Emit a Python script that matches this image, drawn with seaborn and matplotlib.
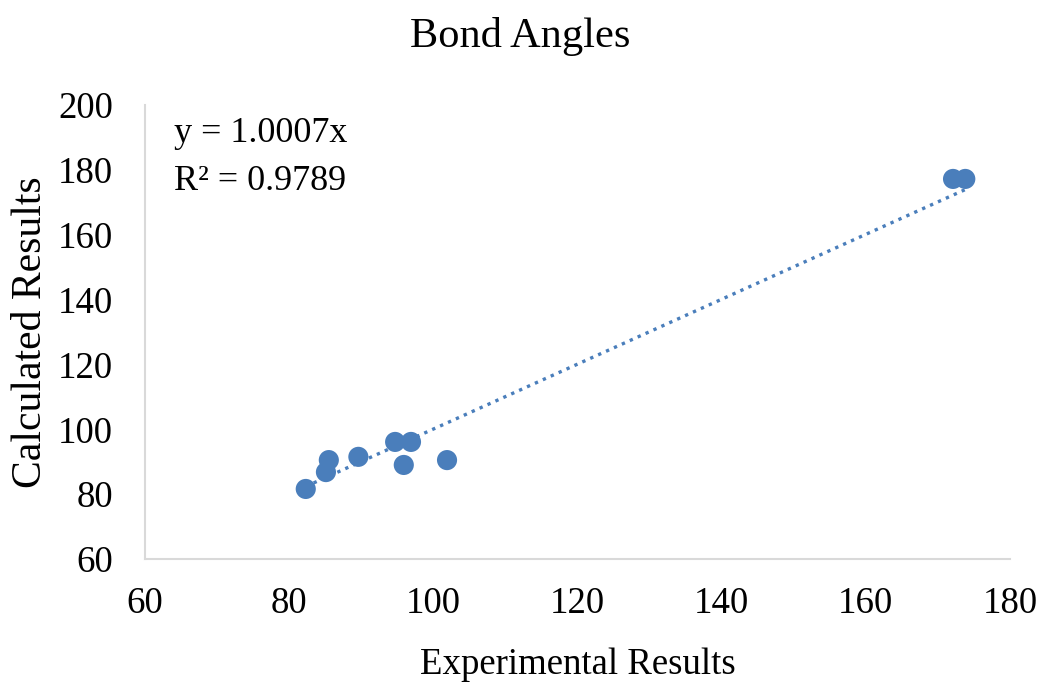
import numpy as np
import pandas as pd
import matplotlib
matplotlib.use("Agg")
import matplotlib.pyplot as plt
import seaborn as sns

# Bond angle comparison (degrees)
experimental = [82.3, 85.1, 85.5, 89.6, 94.7, 96.9, 95.9, 101.9, 172.1, 173.8]
calculated = [81.6, 86.8, 90.5, 91.5, 96.1, 96.1, 89.0, 90.5, 177.2, 177.2]
slope = 1.0007
r_squared = 0.9789

x_ticks = [60, 80, 100, 120, 140, 160, 180]
y_ticks = [60, 80, 100, 120, 140, 160, 180, 200]

sns.set_theme(style="white")
plt.rcParams["font.family"] = ["Liberation Serif", "DejaVu Serif"]
plt.rcParams["text.color"] = "black"
plt.rcParams["axes.labelcolor"] = "black"
plt.rcParams["xtick.color"] = "black"
plt.rcParams["ytick.color"] = "black"

blue = "#4A7EBB"
df = pd.DataFrame({"Experimental": experimental, "Calculated": calculated})

fig = plt.figure(figsize=(10.41, 6.88), dpi=100)
ax = fig.add_axes([0.1393, 0.1875, 0.8309, 0.6599])

# Linear trendline through the origin
trend_x = np.array([min(experimental), max(experimental)])
trend = pd.DataFrame({"x": trend_x, "y": slope * trend_x})
sns.lineplot(data=trend, x="x", y="y", ax=ax, color=blue, linestyle=(0, (1, 1.6)),
             linewidth=2.4, zorder=1)

sns.scatterplot(data=df, x="Experimental", y="Calculated", ax=ax, color=blue,
                s=210, edgecolor="none", zorder=2)

ax.set_xlim(60, 180)
ax.set_ylim(60, 200)
ax.set_xticks(x_ticks)
ax.set_yticks(y_ticks)
ax.tick_params(axis="both", labelsize=26.5, length=0)
ax.tick_params(axis="x", pad=20)
ax.tick_params(axis="y", pad=23)

for side in ["top", "right"]:
    ax.spines[side].set_visible(False)
for side in ["left", "bottom"]:
    ax.spines[side].set_color("#D9D9D9")
    ax.spines[side].set_linewidth(1.5)

ax.set_xlabel("Experimental Results", fontsize=26.5, va="center")
ax.set_ylabel("Calculated Results", fontsize=30, va="center")
ax.xaxis.set_label_coords(0.5, -0.234)
ax.yaxis.set_label_coords(-0.132, 0.5)
fig.suptitle("Bond Angles", fontsize=30.5, x=0.5, y=0.947, va="center")

ax.text(0.034, 0.937, f"y = {slope:.4f}x", transform=ax.transAxes, fontsize=26,
        va="center", ha="left")
ax.text(0.034, 0.831, f"R² = {r_squared:.4f}", transform=ax.transAxes, fontsize=26,
        va="center", ha="left")

fig.savefig("out.png", dpi=100)
